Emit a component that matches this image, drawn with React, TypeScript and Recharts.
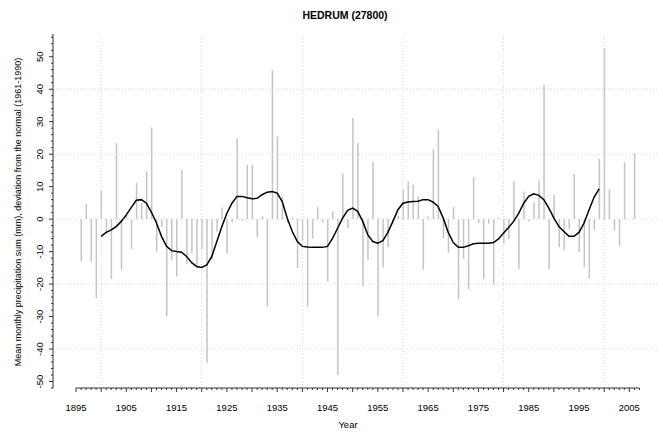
import React from "react";
import {
  ComposedChart,
  Bar,
  Line,
  XAxis,
  YAxis,
  ReferenceLine,
} from "recharts";

// yearly deviation from the 1961-1990 normal (mm), first bar is 1896, 2005 missing
const FIRST_YEAR = 1896;
const deviation = [
  -13.0, 4.7, -13.0, -24.3, 8.7, -4.0, -18.5, 23.4, -15.6, 1.3,
  -9.2, 11.1, 5.0, 14.7, 28.2, -10.0, -2.3, -29.8, -12.5, -17.7,
  15.2, -13.9, -10.5, -15.1, -9.2, -44.2, -12.5, -3.8, 3.6, -10.5,
  -1.0, 24.8, -0.5, 16.7, 16.7, -5.5, 0.8, -26.9, 45.8, 25.5,
  7.0, -1.2, 0.5, -15.1, -6.4, -26.9, -5.9, 3.7, -1.0, -19.2,
  2.4, -48.0, 14.0, -2.8, 31.1, 23.4, -20.7, -12.5, 17.6, -30.0,
  -14.9, -8.5, -1.0, 1.0, 9.0, 11.6, 10.6, 7.0, -15.6, 0.8,
  21.4, 27.5, -5.9, -10.3, 3.7, -24.7, -12.2, -21.6, 12.9, -1.2,
  -18.5, -1.4, -20.2, 0.5, -7.4, -6.2, 11.8, -15.4, 8.5, -0.7,
  5.2, 11.8, 41.4, -15.4, 7.5, -8.6, -9.5, -3.1, 14.0, -10.2,
  -14.8, -18.2, -3.3, 18.5, 52.7, 9.2, -3.5, -8.2, 17.5, null,
  20.3,
];

// smoothed curve, 1900-1999
const SMOOTH_START = 1900;
const smooth = [
  -5.3, -4.1, -3.3, -2.3, -0.7, 1.3, 3.6, 5.8, 6.0, 4.9,
  2.1, -1.2, -5.3, -8.4, -9.7, -10.0, -10.2, -11.5, -13.4, -14.6,
  -14.9, -14.1, -11.5, -6.9, -2.3, 1.8, 4.9, 7.0, 7.0, 6.6,
  6.3, 6.4, 7.5, 8.3, 8.5, 8.0, 5.4, 0.3, -3.8, -6.9,
  -8.4, -8.6, -8.7, -8.7, -8.7, -8.4, -5.9, -2.8, 0.3, 2.7,
  3.4, 2.4, -0.7, -4.8, -6.9, -7.4, -6.6, -4.1, -0.7, 2.9,
  4.9, 5.3, 5.4, 5.5, 6.0, 6.0, 5.2, 3.9, 0.3, -4.1,
  -7.2, -8.7, -8.7, -8.2, -7.6, -7.4, -7.4, -7.4, -7.2, -6.1,
  -4.3, -2.6, -0.7, 1.8, 4.9, 7.0, 7.8, 7.3, 6.0, 3.4,
  0.3, -2.3, -3.8, -5.3, -5.3, -4.1, -1.2, 2.9, 6.8, 9.3,
];

const xTicks: number[] = [];
for (let yr = 1895; yr <= 2007; yr++) xTicks.push(yr);
const yTicks: number[] = [];
for (let v = -52; v <= 56; v += 2) yTicks.push(v);
const gridYears = [1900, 1920, 1940, 1960, 1980, 2000];
const gridValues = [-40, -20, 0, 20, 40];

const data = deviation.map((d, i) => {
  const year = FIRST_YEAR + i;
  const s = smooth[year - SMOOTH_START];
  return { year, dev: d, smooth: s === undefined ? null : s };
});

const AXIS = "#333";
const GRID = "#d6d6d6";
const FONT = "'Liberation Sans', Arial, sans-serif";

const XTick = (props: any) => {
  const { x, y, payload } = props;
  const yr = payload.value;
  const major = yr % 5 === 0;
  return (
    <g>
      <line x1={x} x2={x} y1={y} y2={y + (major ? 4 : 2)} stroke={AXIS} strokeWidth={1} />
      {(yr - 1895) % 10 === 0 && (
        <text x={x} y={y + 23} textAnchor="middle" fontSize={9.5} fontFamily={FONT} fill="#000">
          {yr}
        </text>
      )}
    </g>
  );
};

const YTick = (props: any) => {
  const { x, y, payload } = props;
  const v = payload.value;
  const major = v % 10 === 0;
  const lx = x - 13;
  return (
    <g>
      <line x1={x} x2={x - (major ? 4 : 2)} y1={y} y2={y} stroke={AXIS} strokeWidth={1} />
      {major && Math.abs(v) <= 50 && (
        <text
          x={lx}
          y={y}
          transform={`rotate(-90 ${lx} ${y})`}
          textAnchor="middle"
          dominantBaseline="central"
          fontSize={9.5}
          fontFamily={FONT}
          fill="#000"
        >
          {v}
        </text>
      )}
    </g>
  );
};

export default function App() {
  return (
    <div style={{ position: "absolute", left: 0, top: 0, width: 663, height: 435, background: "#fff" }}>
      <ComposedChart
        width={663}
        height={435}
        data={data}
        margin={{ top: 34, right: 6, bottom: 0, left: 0 }}
      >
        {gridValues.map((v) => (
          <ReferenceLine key={"h" + v} y={v} stroke={GRID} strokeDasharray="1 2" />
        ))}
        {gridYears.map((yr) => (
          <ReferenceLine key={"v" + yr} x={yr} stroke={GRID} strokeDasharray="1 2" />
        ))}
        <XAxis
          dataKey="year"
          type="number"
          domain={[1890.43, 2010.5]}
          allowDataOverflow
          ticks={xTicks}
          interval={0}
          tick={<XTick />}
          tickLine={false}
          axisLine={false}
          tickSize={0}
          tickMargin={0}
          height={47}
        />
        <YAxis
          type="number"
          domain={[-52, 57]}
          allowDataOverflow
          ticks={yTicks}
          interval={0}
          tick={<YTick />}
          tickLine={false}
          axisLine={{ stroke: AXIS }}
          tickSize={0}
          tickMargin={0}
          width={53}
        />
        <ReferenceLine
          segment={[
            { x: 1895, y: -52 },
            { x: 2007, y: -52 },
          ]}
          stroke={AXIS}
          ifOverflow="visible"
        />
        <Bar dataKey="dev" fill="#c4c4c4" barSize={1.5} isAnimationActive={false} />
        <Line
          dataKey="smooth"
          type="linear"
          stroke="#000"
          strokeWidth={1.5}
          dot={false}
          connectNulls={false}
          isAnimationActive={false}
        />
      </ComposedChart>
      <svg
        width={663}
        height={435}
        style={{ position: "absolute", left: 0, top: 0, pointerEvents: "none" }}
      >
        <text x={345} y={19} textAnchor="middle" fontSize={10.5} fontWeight="bold" fontFamily={FONT}>
          HEDRUM (27800)
        </text>
        <text x={348} y={428} textAnchor="middle" fontSize={9.5} fontFamily={FONT}>
          Year
        </text>
        <text
          x={18}
          y={212}
          transform="rotate(-90 18 212)"
          textAnchor="middle"
          dominantBaseline="central"
          fontSize={9}
          fontFamily={FONT}
        >
          Mean monthly precipitation sum (mm), deviation from the normal (1961-1990)
        </text>
      </svg>
    </div>
  );
}
